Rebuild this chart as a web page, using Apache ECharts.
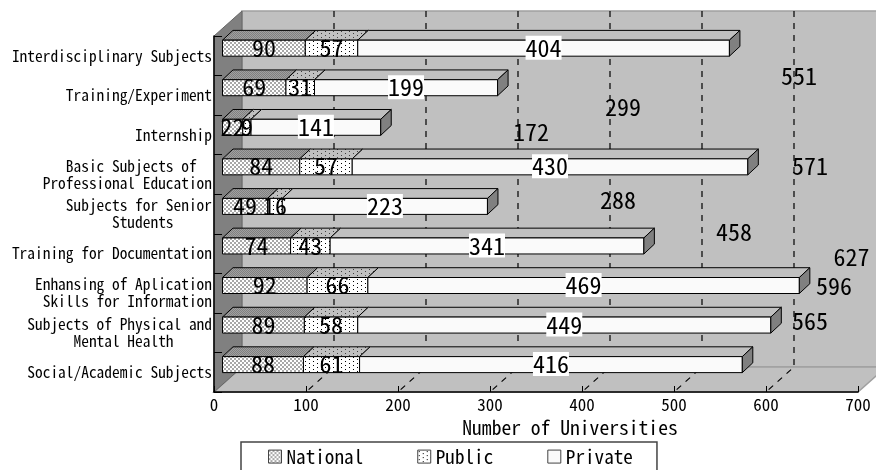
<!DOCTYPE html>
<html><head><meta charset="utf-8">
<style>html,body{margin:0;padding:0;background:#fff}#c{width:876px;height:470px}</style>
<script src="https://cdn.jsdelivr.net/npm/echarts@6/dist/echarts.min.js"></script>
</head><body><div id="c"></div>
<script>
const categories = ['Interdisciplinary Subjects','Training/Experiment','Internship','Basic Subjects of\nProfessional Education','Subjects for Senior\nStudents','Training for Documentation','Enhansing of Aplication\nSkills for Information','Subjects of Physical and\nMental Health','Social/Academic Subjects'];
const national = [90,69,22,84,49,74,92,89,88];
const publicU  = [57,31,9,57,16,43,66,58,61];
const privateU = [404,199,141,430,223,341,469,449,416];
const totals   = [551,299,172,571,288,458,627,596,565];
const xTicks = [100,200,300,400,500,600];
// stray placement of the total labels, relative to bar end and bar centre (px)
const totalDx = [69.6,125.4,150.3,62.2,130.5,90.1,52.2,63.2,67.7];
const totalDy = [28,19.5,5,-1,-6.5,-14,-29,-39,-43.5];

const FONT = '"Noto Sans Mono CJK JP","Liberation Mono",monospace';
const WALL = [28,25], BAR_OFF = [8.5,7.6], BAR_DEPTH = [10.5,9.8], BAR_H = 16;

function tile(size, base, pts, col){
  const c=document.createElement('canvas'); c.width=c.height=size;
  const g=c.getContext('2d'); g.fillStyle=base; g.fillRect(0,0,size,size);
  g.fillStyle=col; pts.forEach(p=>g.fillRect(p[0],p[1],1,1));
  return {image:c,repeat:'repeat'};
}
const fills = {
  National:{front:tile(4,'#ffffff',[[0,0],[1,0],[0,1],[2,2],[3,2],[2,3],[1,1],[3,3]],'#a8a8a8'),
            top:tile(4,'#a0a0a0',[[0,0],[2,0],[1,1],[3,1],[0,2],[2,2],[1,3],[3,3]],'#808080')},
  Public:{front:tile(8,'#ffffff',[[1,1],[5,3],[1,5],[5,7]],'#000000'),
          top:tile(8,'#c0c0c0',[[1,1],[5,3],[1,5],[5,7]],'#404040')},
  Private:{front:'#fafafa',top:'#c0c0c0'}
};

const stages = [['National',national],['Public',publicU],['Private',privateU]];
const running = categories.map(()=>0);
const segments = stages.map(([name,vals])=>vals.map((v,i)=>{const s=running[i];running[i]+=v;return [s,s+v,i,v];}));

function barSeries(name,rows,last){
  return {name,type:'custom',z:2,itemStyle:{color:fills[name].front},encode:{x:[0,1],y:2},data:rows,
    renderItem(p,api){
      const a=api.coord([api.value(0),api.value(2)]), b=api.coord([api.value(1),api.value(2)]);
      const x0=a[0]+BAR_OFF[0], x1=b[0]+BAR_OFF[0], yc=a[1]-BAR_OFF[1], t=yc-BAR_H/2, h=BAR_H;
      const dx=BAR_DEPTH[0], dy=BAR_DEPTH[1], line={stroke:'#000',lineWidth:1};
      const ch=[
        {type:'polygon',shape:{points:[[x0,t],[x0+dx,t-dy],[x1+dx,t-dy],[x1,t]]},style:{fill:fills[name].top,...line}},
        {type:'rect',shape:{x:x0,y:t,width:x1-x0,height:h},style:{fill:fills[name].front,...line}}
      ];
      if(last) ch.push({type:'polygon',shape:{points:[[x1,t],[x1+dx,t-dy],[x1+dx,t+h-dy],[x1,t+h]]},style:{fill:'#808080',...line}});
      return {type:'group',children:ch};
    }};
}
const labelRows=[];
segments.forEach((rows,si)=>rows.forEach(r=>labelRows.push([(r[0]+r[1])/2,r[2],r[3],si])));

const option={
  animation:false,
  textStyle:{fontFamily:FONT},
  grid:{left:214,right:18,top:36,bottom:78,containLabel:false},
  xAxis:{type:'value',min:0,max:700,interval:100,z:3,splitLine:{show:false},
    axisLine:{show:true,lineStyle:{color:'#000',width:1.5}},
    axisTick:{show:true,inside:true,length:6,lineStyle:{color:'#000',width:1}},
    axisLabel:{color:'#000',fontFamily:FONT,fontSize:17,margin:4,showMinLabel:true,showMaxLabel:true},
    name:'Number of Universities',nameLocation:'middle',nameGap:23,
    nameTextStyle:{color:'#000',fontFamily:FONT,fontSize:19.6,padding:[0,0,0,68]}},
  yAxis:{type:'category',data:categories,inverse:true,z:3,splitLine:{show:false},
    axisLine:{show:true,lineStyle:{color:'#000',width:1.5}},
    axisTick:{show:true,inside:true,length:8,lineStyle:{color:'#000',width:1}},
    axisLabel:{color:'#000',fontFamily:FONT,fontSize:15.4,lineHeight:17,margin:2,interval:0,align:'right',padding:[0,0,5,0],
      formatter(v){const ls=v.split('\n');const m=Math.max(...ls.map(l=>l.length));
        return ls.map(l=>l+'\u00a0'.repeat(Math.floor((m-l.length)/2))).join('\n');}}},
  legend:{left:241,top:442,selectedMode:false,orient:'horizontal',itemWidth:13,itemHeight:13,itemGap:54,
    padding:[5,24,30,27],borderColor:'#444',borderWidth:1.5,backgroundColor:'#fff',
    textStyle:{color:'#000',fontFamily:FONT,fontSize:19.2},
    data:stages.map(([n])=>({name:n,icon:'rect',itemStyle:{color:fills[n].front,borderColor:'#444',borderWidth:1}}))},
  series:[
    {name:'stage',type:'custom',z:1,silent:true,data:[[0,0]],encode:{x:0,y:1},
     renderItem(p,api){
      const g=p.coordSys, L=g.x, T=g.y, R=g.x+g.width, B=g.y+g.height, dx=WALL[0], dy=WALL[1];
      const edge={stroke:'#a0a0a0',lineWidth:1.5};
      const ch=[
        {type:'polygon',shape:{points:[[L+dx,T-dy],[R+dx,T-dy],[R+dx,B-dy],[L+dx,B-dy]]},style:{fill:'#c0c0c0',...edge}},
        {type:'polygon',shape:{points:[[L,B],[L+dx,B-dy],[R+dx,B-dy],[R,B]]},style:{fill:'#c0c0c0',...edge}},
        {type:'polygon',shape:{points:[[L,T],[L+dx,T-dy],[L+dx,B-dy],[L,B]]},style:{fill:'#808080',stroke:'#666',lineWidth:1}}
      ];
      xTicks.forEach(v=>{const x=api.coord([v,0])[0];
        ch.push({type:'polyline',shape:{points:[[x+dx,T-dy],[x+dx,B-dy],[x,B]]},
          style:{fill:null,stroke:'#000',lineWidth:1.2,lineDash:[6,6]}});});
      return {type:'group',children:ch};
     }},
    ...stages.map(([n],i)=>barSeries(n,segments[i],i===2)),
    {name:'labels',type:'custom',z:4,silent:true,encode:{x:0,y:1},data:labelRows,
     renderItem(p,api){
      const c=api.coord([api.value(0),api.value(1)]), si=api.value(3);
      return {type:'text',style:{x:c[0]+BAR_OFF[0],y:c[1]-BAR_OFF[1]-0.5,text:String(api.value(2)),align:'center',verticalAlign:'middle',
        fontFamily:FONT,fontSize:24,fill:'#000',backgroundColor:si===2?'#fff':'transparent',padding:0}};
     }},
    {name:'totals',type:'custom',z:4,silent:true,encode:{x:0,y:1},data:totals.map((t,i)=>[t,i]),
     renderItem(p,api){
      const i=api.value(1), c=api.coord([api.value(0),i]);
      return {type:'text',style:{x:c[0]+BAR_OFF[0]+totalDx[i],y:c[1]-BAR_OFF[1]+totalDy[i],text:String(api.value(0)),align:'center',verticalAlign:'middle',
        fontFamily:FONT,fontSize:24,fill:'#000'}};
     }}
  ]
};
echarts.init(document.getElementById('c'),null,{renderer:'canvas'}).setOption(option);
</script></body></html>
